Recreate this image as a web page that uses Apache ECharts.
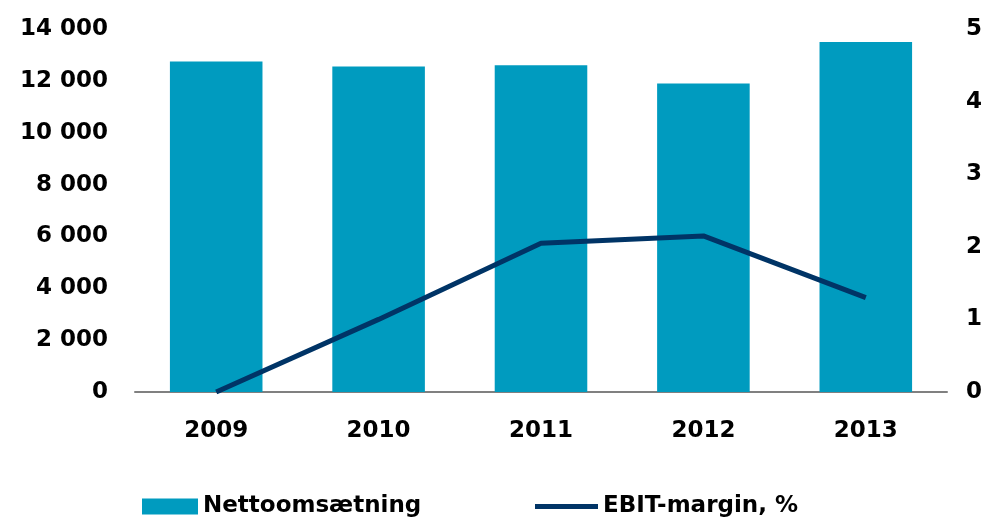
<!DOCTYPE html>
<html>
<head>
<meta charset="utf-8">
<title>Nettoomsætning og EBIT-margin</title>
<script src="https://cdn.jsdelivr.net/npm/echarts@6/dist/echarts.min.js"></script>
<style>
  html, body { margin: 0; padding: 0; background: #fff; }
  #chart { width: 988px; height: 518px; }
</style>
</head>
<body>
<div id="chart"></div>
<script>
var years = ['2009', '2010', '2011', '2012', '2013'];
var nettoomsaetning = [12750, 12550, 12600, 11900, 13500];
var ebitMargin = [0, 1.0, 2.05, 2.15, 1.3];

var chart = echarts.init(document.getElementById('chart'));

var font = 'DejaVu Sans';

var option = {
  backgroundColor: '#fff',
  animation: false,
  grid: { left: 135, right: 41, top: 29, bottom: 126 },
  legend: [{
    data: [{ name: 'Nettoomsætning', icon: 'rect' }],
    left: 137, top: 490,
    itemWidth: 56, itemHeight: 16, itemGap: 7,
    textStyle: { fontFamily: font, fontWeight: 'bold', fontSize: 23, color: '#000' }
  }, {
    data: [{ name: 'EBIT-margin, %', icon: 'rect' }],
    left: 530, top: 490,
    itemWidth: 63, itemHeight: 5,
    textStyle: { fontFamily: font, fontWeight: 'bold', fontSize: 23, color: '#000' }
  }],
  xAxis: {
    type: 'category',
    data: years,
    axisLine: { lineStyle: { color: '#808080', width: 2 } },
    axisTick: { show: false },
    axisLabel: { margin: 28, fontFamily: font, fontWeight: 'bold', fontSize: 23, color: '#000' }
  },
  yAxis: [{
    type: 'value',
    min: 0, max: 14000, interval: 2000,
    splitLine: { show: false },
    axisLine: { show: false },
    axisTick: { show: false },
    axisLabel: {
      margin: 27,
      fontFamily: font, fontWeight: 'bold', fontSize: 23, color: '#000',
      formatter: function (v) {
        return String(v).replace(/\B(?=(\d{3})+(?!\d))/g, ' ');
      }
    }
  }, {
    type: 'value',
    min: 0, max: 5, interval: 1,
    splitLine: { show: false },
    axisLine: { show: false },
    axisTick: { show: false },
    axisLabel: { margin: 19, fontFamily: font, fontWeight: 'bold', fontSize: 23, color: '#000' }
  }],
  series: [{
    name: 'Nettoomsætning',
    type: 'bar',
    data: nettoomsaetning,
    barWidth: '57%',
    itemStyle: { color: '#009BBF' }
  }, {
    name: 'EBIT-margin, %',
    type: 'line',
    yAxisIndex: 1,
    data: ebitMargin,
    symbol: 'none',
    lineStyle: { color: '#003466', width: 5 },
    itemStyle: { color: '#003466' }
  }]
};

chart.setOption(option);
</script>
</body>
</html>
